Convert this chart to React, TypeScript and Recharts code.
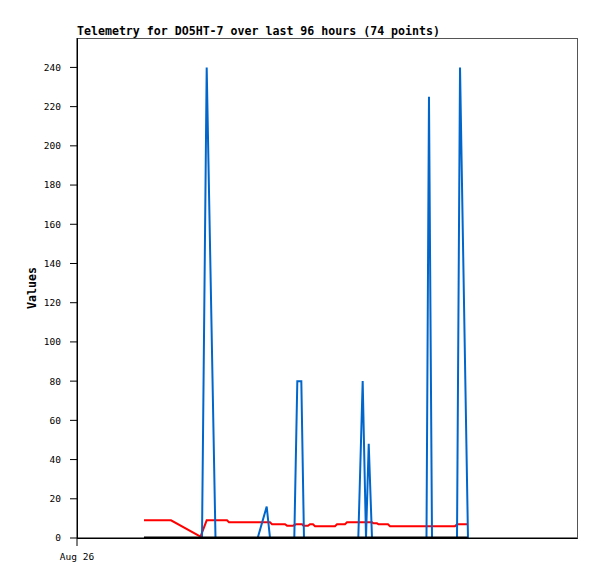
import { LineChart, Line, XAxis, YAxis } from 'recharts';

// hours since Aug 26 00:00
const redHours = [12.86, 18.05, 23.71, 24.9, 28.8, 29.18, 37.06, 37.44, 39.94, 40.32, 41.47, 42.05, 43.2, 43.49, 44.35, 44.74, 45.31, 45.7, 49.54, 49.92, 51.46, 51.84, 56.64, 56.93, 57.6, 57.89, 59.71, 60.1, 72.58, 72.96, 74.88];
const redValues = [9, 9, 0.7, 9, 9, 8, 8, 7, 7, 6.3, 6.3, 7, 7, 6.2, 6.2, 7, 7, 6, 6, 7, 7, 8, 8, 7.5, 7.5, 7, 7, 6, 6, 7, 7];

const blueHours = [12.86, 24.0, 24.9, 26.59, 34.69, 36.42, 37.06, 41.72, 42.3, 43.07, 43.58, 54.01, 54.85, 55.49, 56.01, 56.64, 67.1, 67.58, 68.16, 72.96, 73.54, 75.07];
const blueValues = [0, 0, 240, 0, 0, 16, 0, 0, 80, 80, 0, 0, 80, 0, 48, 0, 0, 225, 0, 0, 240, 0];

const zeroHours = [12.86, 75.0];
const zeroValues = [0, 0];

const yTicks = [0, 20, 40, 60, 80, 100, 120, 140, 160, 180, 200, 220, 240];
const xTicks = [0];
const xTickLabels = ['Aug 26'];

const toRows = (hours: number[], values: number[]) =>
  hours.map((t, i) => ({ t, v: values[i] }));

const redData = toRows(redHours, redValues);
const blueData = toRows(blueHours, blueValues);
const zeroData = toRows(zeroHours, zeroValues);

const mono = '"DejaVu Sans Mono", monospace';

const App = () => {
  return (
    <div style={{ position: 'absolute', left: 0, top: 0, width: 597, height: 579, background: '#fff' }}>
      <div
        style={{
          position: 'absolute',
          left: 77,
          top: 25,
          fontFamily: mono,
          fontWeight: 'bold',
          fontSize: 11.6,
          lineHeight: '12px',
          whiteSpace: 'nowrap',
        }}
      >
        Telemetry for DO5HT-7 over last 96 hours (74 points)
      </div>
      <div
        style={{
          position: 'absolute',
          left: 32,
          top: 288,
          transform: 'translate(-50%, -50%) rotate(-90deg)',
          fontFamily: mono,
          fontWeight: 'bold',
          fontSize: 11.6,
          lineHeight: '12px',
          whiteSpace: 'nowrap',
        }}
      >
        Values
      </div>
      {/* plot frame */}
      <div
        style={{
          position: 'absolute',
          left: 77,
          top: 38,
          width: 499,
          height: 499,
          borderTop: '1px solid #555',
          borderRight: '1px solid #555',
          borderLeft: '1px solid #000',
          borderBottom: '1px solid #000',
          boxSizing: 'content-box',
          pointerEvents: 'none',
        }}
      />
      <LineChart width={597} height={579} margin={{ top: 38, right: 20, left: 17, bottom: 11 }}>
        <XAxis
          dataKey="t"
          type="number"
          domain={[0, 96]}
          ticks={xTicks}
          tickFormatter={(v: number) => xTickLabels[xTicks.indexOf(v)] ?? ''}
          height={30}
          stroke="#000"
          tickSize={8}
          tickMargin={7}
          tick={{ fill: '#000', fontFamily: mono, fontSize: 9.5 }}
          allowDataOverflow
        />
        <YAxis
          type="number"
          domain={[0, 255]}
          ticks={yTicks}
          width={60}
          stroke="#000"
          tickSize={7}
          tickMargin={9}
          tick={{ fill: '#000', fontFamily: mono, fontSize: 9.5 }}
          allowDataOverflow
        />
        <Line data={redData} dataKey="v" type="linear" stroke="#ff0000" strokeWidth={2} dot={false} isAnimationActive={false} />
        <Line data={blueData} dataKey="v" type="linear" stroke="#0066cc" strokeWidth={2} dot={false} isAnimationActive={false} />
        <Line data={zeroData} dataKey="v" type="linear" stroke="#000000" strokeWidth={3} dot={false} isAnimationActive={false} />
      </LineChart>
    </div>
  );
};

export default App;
